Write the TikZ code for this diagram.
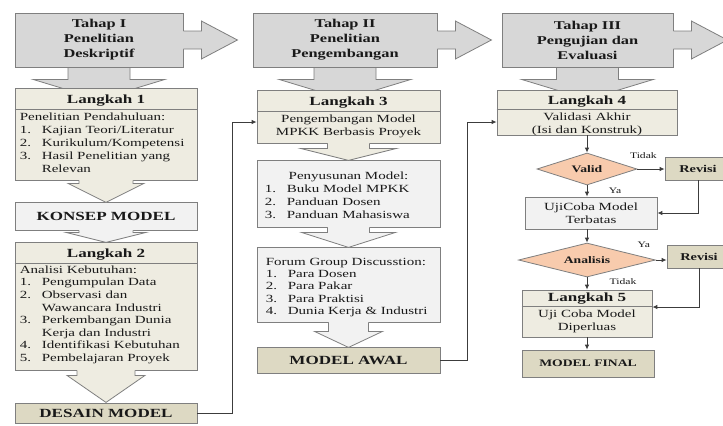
\documentclass[tikz,border=0pt]{standalone}
\usepackage{fontspec}
\setmainfont{Liberation Serif}[FakeStretch=1.37]
\usetikzlibrary{shapes.geometric,arrows.meta,positioning,calc,backgrounds}
\definecolor{tahapC}{RGB}{215,215,215}
\definecolor{edgeC}{RGB}{127,127,127}
\definecolor{langkahC}{RGB}{238,236,225}
\definecolor{paleC}{RGB}{242,242,242}
\definecolor{modelC}{RGB}{221,217,195}
\definecolor{decideC}{RGB}{248,203,173}
\definecolor{inkC}{RGB}{25,25,25}
\definecolor{wireC}{RGB}{60,60,60}
\tikzset{
  tahapbox/.style={rectangle, draw=edgeC, fill=tahapC, line width=0.8bp, inner sep=0pt,
                   minimum width=#1, minimum height=54bp, align=center, text=inkC,
                   font=\bfseries\fontsize{12}{15}\selectfont},
  panel/.style={rectangle, draw=edgeC, fill=#1, line width=0.8bp, inner sep=0pt},
  stepttl/.style={font=\bfseries\fontsize{12.5}{15}\selectfont, text=inkC, inner sep=0pt},
  body/.style={font=\fontsize{11}{13}\selectfont, text=inkC, inner sep=0pt},
  modelttl/.style={font=\bfseries\fontsize{12.5}{15}\selectfont, text=inkC},
  decide/.style={diamond, aspect=3.5, draw=edgeC, fill=decideC, line width=0.8bp, inner sep=0pt,
                 font=\bfseries\fontsize{10}{12}\selectfont, text=inkC},
  yesno/.style={font=\fontsize{8.5}{10}\selectfont, text=inkC, inner sep=0pt},
  wire/.style={draw=wireC, line width=0.9bp, -{Latex[length=5bp,width=4.5bp]}},
  outline/.style={draw=edgeC, line width=0.8bp},
}
% numbered line and its continuation
\newcommand{\itm}[2]{\makebox[22bp][l]{#1}#2}
% arrow hanging under a box: node, fill, shaft half, head half, shaft length, head length
\newcommand{\calldown}[6]{%
  \fill[#2] ($(#1.south)+(-#3,-1)$) -- ($(#1.south)+(-#3,#5)$) -- ($(#1.south)+(-#4,#5)$)
    -- ($(#1.south)+(0,#5+#6)$) -- ($(#1.south)+(#4,#5)$) -- ($(#1.south)+(#3,#5)$)
    -- ($(#1.south)+(#3,-1)$) -- cycle;
  \draw[outline] ($(#1.south)+(-#3,0)$) -- ($(#1.south)+(-#3,#5)$) -- ($(#1.south)+(-#4,#5)$)
    -- ($(#1.south)+(0,#5+#6)$) -- ($(#1.south)+(#4,#5)$) -- ($(#1.south)+(#3,#5)$)
    -- ($(#1.south)+(#3,0)$);}

\begin{document}
\begin{tikzpicture}[x=1bp, y=-1bp]
  \useasboundingbox (0,0) rectangle (723,425);

  % Tahap headers
  \node[tahapbox=168bp] (t1) at (99,40) {Tahap I\\Penelitian\\Deskriptif};
  \node[tahapbox=184bp] (t2) at (345,40) {Tahap II\\Penelitian\\Pengembangan};
  \node[tahapbox=171bp] (t3) at (587.5,40) {Tahap III\\Pengujian dan\\Evaluasi};
  \foreach \t in {t1,t2,t3} {
    \fill[tahapC] ($(\t.east)+(-1,-9)$) -- ++(19,0) -- ++(0,-10) -- ++(36,19) -- ++(-36,19) -- ++(0,-10) -- ++(-19,0) -- cycle;
    \draw[outline] ($(\t.east)+(0,-9)$) -- ++(18,0) -- ++(0,-10) -- ++(36,19) -- ++(-36,19) -- ++(0,-10) -- ++(-18,0);
  }

  % Tahap I column
  \node[panel=langkahC, minimum width=182bp, minimum height=92bp] (lk1) at (106,134) {};
  \node[stepttl] (lk1t) at ($(lk1.north)+(0,12.5)$) {Langkah 1};
  \draw[outline] ($(lk1.north west)+(0,22)$) -- ($(lk1.north east)+(0,22)$);
  \node[body, anchor=north west, align=left] (lk1b) at ($(lk1.north west)+(5,25)$)
    {Penelitian Pendahuluan:\\ \itm{1.}{Kajian Teori/Literatur}\\ \itm{2.}{Kurikulum/Kompetensi}\\
     \itm{3.}{Hasil Penelitian yang}\\ \itm{}{Relevan}};
  \node[panel=paleC, modelttl, minimum width=182bp, minimum height=28bp] (konsep) at (106,216) {KONSEP MODEL};
  \node[panel=langkahC, minimum width=182bp, minimum height=128bp] (lk2) at (106,306) {};
  \node[stepttl] (lk2t) at ($(lk2.north)+(0,12.5)$) {Langkah 2};
  \draw[outline] ($(lk2.north west)+(0,22)$) -- ($(lk2.north east)+(0,22)$);
  \node[body, font=\fontsize{11}{12.6}\selectfont, anchor=north west, align=left] (lk2b) at ($(lk2.north west)+(5,24)$)
    {Analisi Kebutuhan:\\ \itm{1.}{Pengumpulan Data}\\ \itm{2.}{Observasi dan}\\ \itm{}{Wawancara Industri}\\
     \itm{3.}{Perkembangan Dunia}\\ \itm{}{Kerja dan Industri}\\ \itm{4.}{Identifikasi Kebutuhan}\\
     \itm{5.}{Pembelajaran Proyek}};
  \node[panel=modelC, modelttl, minimum width=182bp, minimum height=20bp] (desain) at (106,413) {DESAIN MODEL};

  % Tahap II column
  \node[panel=langkahC, minimum width=183bp, minimum height=53bp] (lk3) at (348.5,116.5) {};
  \node[stepttl] (lk3t) at ($(lk3.north)+(0,13)$) {Langkah 3};
  \draw[outline] ($(lk3.north west)+(0,22)$) -- ($(lk3.north east)+(0,22)$);
  \node[body, anchor=north, align=center] (lk3b) at ($(lk3.north)+(0,25)$) {Pengembangan Model\\MPKK Berbasis Proyek};
  \node[panel=paleC, minimum width=183bp, minimum height=67bp] (susun) at (348.5,193.5) {};
  \node[body, anchor=north] (susunt) at ($(susun.north)+(0,12)$) {Penyusunan Model:};
  \node[body, anchor=north west, align=left] (susunb) at ($(susun.north west)+(8,25)$)
    {\itm{1.}{Buku Model MPKK}\\ \itm{2.}{Panduan Dosen}\\ \itm{3.}{Panduan Mahasiswa}};
  \node[panel=paleC, minimum width=183bp, minimum height=75bp] (fgd) at (348.5,284.5) {};
  \node[body, font=\fontsize{11}{12.5}\selectfont, anchor=north west, align=left] (fgdb) at ($(fgd.north west)+(9,11)$)
    {Forum Group Discusstion:\\ \itm{1.}{Para Dosen}\\ \itm{2.}{Para Pakar}\\ \itm{3.}{Para Praktisi}\\
     \itm{4.}{Dunia Kerja \& Industri}};
  \node[panel=modelC, modelttl, minimum width=183bp, minimum height=26bp] (awal) at (348.5,360) {MODEL AWAL};

  % Tahap III column
  \node[panel=langkahC, minimum width=180bp, minimum height=45bp] (lk4) at (587,112.5) {};
  \node[stepttl] (lk4t) at ($(lk4.north)+(0,11.5)$) {Langkah 4};
  \draw[outline] ($(lk4.north west)+(0,20)$) -- ($(lk4.north east)+(0,20)$);
  \node[body, anchor=north, align=center] (lk4b) at ($(lk4.north)+(0,23)$) {Validasi Akhir\\(Isi dan Konstruk)};
  \node[decide, minimum width=100bp, minimum height=32bp] (valid) at (587,169) {Valid};
  \node[panel=modelC, modelttl, font=\bfseries\fontsize{10.5}{12}\selectfont, minimum width=66bp, minimum height=23bp] (revisi1) at (698,168.5) {Revisi};
  \node[panel=paleC, body, align=center, minimum width=132bp, minimum height=32bp] (uji) at (591,213) {UjiCoba Model\\Terbatas};
  \node[decide, minimum width=137bp, minimum height=34bp] (analisis) at (587,260) {Analisis};
  \node[panel=modelC, modelttl, font=\bfseries\fontsize{10.5}{12}\selectfont, minimum width=64bp, minimum height=23bp] (revisi2) at (699,256.5) {Revisi};
  \node[panel=langkahC, minimum width=130bp, minimum height=47bp] (lk5) at (587,313.5) {};
  \node[stepttl] (lk5t) at ($(lk5.north)+(0,9)$) {Langkah 5};
  \draw[outline] ($(lk5.north west)+(0,17)$) -- ($(lk5.north east)+(0,17)$);
  \node[body, anchor=north, align=center] (lk5b) at ($(lk5.north)+(0,20)$) {Uji Coba Model\\Diperluas};
  \node[panel=modelC, modelttl, font=\bfseries\fontsize{10}{12}\selectfont, minimum width=132bp, minimum height=27bp] (final) at (588,363.5) {MODEL FINAL};

  % hanging arrows
  \calldown{lk1}{langkahC}{27}{38}{3}{19}
  \calldown{konsep}{paleC}{27}{40}{2}{10}
  \calldown{lk2}{langkahC}{29}{39}{5}{27}
  \calldown{lk3}{langkahC}{21}{48}{5}{12}
  \calldown{susun}{paleC}{21}{47}{5}{15}
  \calldown{fgd}{paleC}{20}{34}{9}{16}

  \begin{scope}[on background layer]
    \fill[white] (0,0) rectangle (723,425);
    \foreach \t in {t1,t2,t3}
      \filldraw[outline, fill=tahapC] ($(\t.south)+(-31,0)$) -- ++(0,12) -- ++(-35,0) -- ($(\t.south)+(0,32)$)
        -- ($(\t.south)+(66,12)$) -- ++(-35,0) -- ++(0,-12) -- cycle;
  \end{scope}

  % connectors
  \coordinate (jalur1) at (232,0);
  \coordinate (jalur2) at (467,0);
  \coordinate (lk3in) at ($(lk3.west)+(0,5.5)$);
  \coordinate (lk4in) at ($(lk4.west)+(0,9.5)$);
  \coordinate (lk5in) at ($(lk5.east)+(0,-6.5)$);
  \draw[wire] (desain.east) -- (desain.east -| jalur1) |- (lk3in);
  \draw[wire] (awal.east) -- (awal.east -| jalur2) |- (lk4in);
  \draw[wire] (lk4.south) -- (valid.north);
  \draw[wire] (valid.east) -- (valid.east -| revisi1.west);
  \draw[wire] (valid.south) -- (valid.south |- uji.north);
  \draw[wire] (revisi1.south) |- (uji.east);
  \draw[wire] (analisis.north |- uji.south) -- (analisis.north);
  \draw[wire] (analisis.east) -- (analisis.east -| revisi2.west);
  \draw[wire] (revisi2.south) |- (lk5in);
  \draw[wire] (analisis.south) -- (lk5.north);
  \draw[wire] (lk5.south) -- (lk5.south |- final.north);
  \node[yesno] (tdk1) at ($(valid.east)+(6,-13)$) {Tidak};
  \node[yesno] (ya1) at ($(valid.south)+(28,5)$) {Ya};
  \node[yesno] (ya2) at ($(analisis.east)+(-12,-15)$) {Ya};
  \node[yesno] (tdk2) at ($(analisis.south)+(36,4)$) {Tidak};
\end{tikzpicture}
\end{document}
